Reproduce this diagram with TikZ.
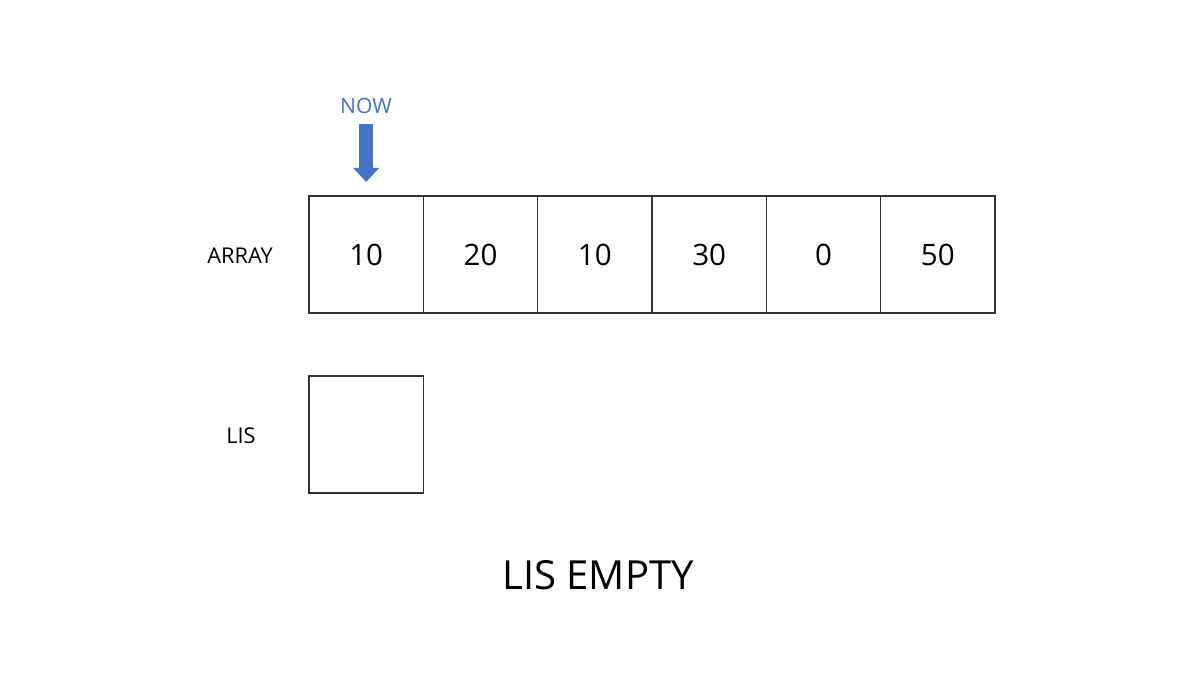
\documentclass[tikz,border=0pt]{standalone}
\usepackage{fontspec}
\setmainfont{Open Sans}
\usetikzlibrary{positioning,arrows.meta}

\begin{document}
\begin{tikzpicture}

\def\wid{1.1433}
\def\hei{1.17}
\def\clrline{black!80}
\definecolor{clrnow}{HTML}{4472C4}

\tikzset{
	cellbox/.style={draw=\clrline, line width=0.3pt, outer sep=0pt, minimum width=\wid cm, minimum height=\hei cm, inner sep=0pt, font=\fontsize{8.4}{10}\selectfont},
	rowlabel/.style={inner sep=0pt, font=\fontsize{6.2}{8}\selectfont},
}

\useasboundingbox (0,0) rectangle (12,6.75);

% array cells
\node[cellbox] (c1) at (3.09+0.5*\wid, 4.205) {10};
\foreach \v [count=\i from 2, evaluate=\i as \j using int(\i-1)] in {20,10,30,0,50}{
	\node[cellbox, right=0pt of c\j] (c\i) {\v};
}

\node[rowlabel] (arraylabel) at (2.40, 4.19) {ARRAY};

% lis
\node[cellbox, anchor=north west] (lis1) at (3.09, 2.99) {};
\node[rowlabel] (lislabel) at (2.41, 2.39) {LIS};

% now pointer
\node[inner sep=0pt, text=clrnow, font=\fontsize{6}{8}\selectfont] (now) at (3.66, 5.69) {NOW};
\draw [clrnow, line width=0.14cm, -{Triangle[width=0.25cm, length=0.14cm]}, shorten <=0.1cm, shorten >=0.14cm] (now.south -| c1.north) -- (c1.north);

\node[inner sep=0pt, font=\fontsize{11.4}{14}\selectfont] (status) at (5.98, 1.0) {LIS EMPTY};

\end{tikzpicture}
\end{document}
